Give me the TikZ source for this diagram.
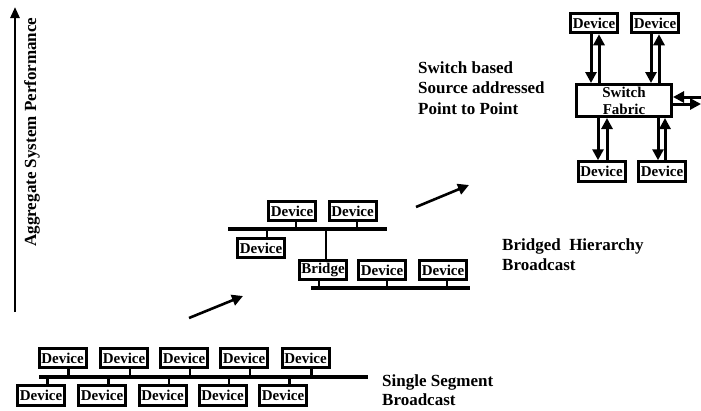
\documentclass[tikz,border=0pt]{standalone}
\usepackage{fontspec}
\setmainfont{Liberation Serif}
\usetikzlibrary{arrows.meta}
\begin{document}
\begin{tikzpicture}[x=1pt,y=-1pt,
 dev/.style={draw, line width=3pt, minimum width=47pt, minimum height=19.5pt, inner sep=0pt, font=\fontsize{15}{16}\selectfont\bfseries},
 bus/.style={line width=3.5pt},
 stub/.style={line width=2.5pt},
 lbl/.style={anchor=base west, inner sep=0pt, font=\fontsize{17}{20}\selectfont\bfseries},
 arr/.style={line width=3pt, -{Triangle[length=11pt,width=11pt]}},
]
\useasboundingbox (0,0) rectangle (701,410);

% axis
\coordinate (ax0) at (15,312);
\coordinate (ax1) at (15,7);
\draw[line width=2.6pt, -{Triangle[length=11pt,width=9pt]}] (ax0) -- (ax1);
\node[rotate=90, inner sep=0pt, font=\fontsize{17}{20}\selectfont\bfseries] (axl) at (32,132) {Aggregate System Performance};

% single segment
\node[dev] (t1) at (62.5,358) {Device};
\node[dev] (t2) at (124,358) {Device};
\node[dev] (t3) at (184,358) {Device};
\node[dev] (t4) at (244,358) {Device};
\node[dev] (t5) at (305.5,358) {Device};
\node[dev] (b1) at (41,395.5) {Device};
\node[dev] (b2) at (102,395.5) {Device};
\node[dev] (b3) at (162.5,395.5) {Device};
\node[dev] (b4) at (222.5,395.5) {Device};
\node[dev] (b5) at (283,395.5) {Device};
\coordinate (busL) at (39,377);
\coordinate (busR) at (368,377);
\draw[bus] (busL) -- (busR);
\foreach \n in {t1,t2,t3,t4,t5}
  \draw[stub] ([xshift=6pt]\n.south) -- ([xshift=6pt]\n.south |- busL);
\foreach \n in {b1,b2,b3,b4,b5}
  \draw[stub] ([xshift=6.5pt]\n.north) -- ([xshift=6.5pt]\n.north |- busL);
\node[lbl] (s1) at (382,386) {Single Segment};
\node[lbl] (s2) at (382,405.5) {Broadcast};

% arrows between stages
\coordinate (a1s) at (189,318);
\coordinate (a1e) at (243,296);
\draw[arr, line width=2.6pt] (a1s) -- (a1e);
\coordinate (a2s) at (416,207);
\coordinate (a2e) at (469,185);
\draw[arr, line width=2.6pt] (a2s) -- (a2e);

% bridged hierarchy
\node[dev] (ma) at (292,211) {Device};
\node[dev] (mb) at (352.5,211) {Device};
\node[dev] (mc) at (261,248) {Device};
\node[dev] (br) at (323,270) {Bridge};
\node[dev] (md) at (382,270) {Device};
\node[dev] (me) at (443,270) {Device};
\coordinate (bus1L) at (228,229);
\coordinate (bus1R) at (387,229);
\coordinate (bus2L) at (311,288);
\coordinate (bus2R) at (470,288);
\draw[bus] (bus1L) -- (bus1R);
\draw[bus] (bus2L) -- (bus2R);
\draw[stub] ([xshift=4pt]ma.south) -- ([xshift=4pt]ma.south |- bus1L);
\draw[stub] ([xshift=4.5pt]mb.south) -- ([xshift=4.5pt]mb.south |- bus1L);
\draw[stub] ([xshift=6pt]mc.north) -- ([xshift=6pt]mc.north |- bus1L);
\draw[stub] ([xshift=3pt]br.north) -- ([xshift=3pt]br.north |- bus1L);
\draw[stub] ([xshift=-4pt]br.south) -- ([xshift=-4pt]br.south |- bus2L);
\draw[stub] ([xshift=5pt]md.south) -- ([xshift=5pt]md.south |- bus2L);
\draw[stub] ([xshift=4pt]me.south) -- ([xshift=4pt]me.south |- bus2L);
\node[lbl] (h1) at (502,250) {Bridged\ \ Hierarchy};
\node[lbl] (h2) at (502,270) {Broadcast};

% switch based
\node[lbl] (w1) at (418,73) {Switch based};
\node[lbl] (w2) at (418,93.5) {Source addressed};
\node[lbl] (w3) at (418,114) {Point to Point};

\node[dev] (sd1) at (594,23) {Device};
\node[dev] (sd2) at (655,23) {Device};
\node[dev] (sd3) at (601.5,171.5) {Device};
\node[dev] (sd4) at (662,171.5) {Device};
\node[draw, line width=3pt, minimum width=95pt, minimum height=32pt, inner sep=0pt, align=center,
      font=\fontsize{15}{17}\selectfont\bfseries] (fab) at (624,100.5) {Switch\\Fabric};

\draw[arr] ([xshift=-3pt]sd1.south) -- ([xshift=-3pt]sd1.south |- fab.north);
\draw[arr] ([xshift=5pt]sd1.south |- fab.north) -- ([xshift=5pt]sd1.south);
\draw[arr] ([xshift=-4pt]sd2.south) -- ([xshift=-4pt]sd2.south |- fab.north);
\draw[arr] ([xshift=4pt]sd2.south |- fab.north) -- ([xshift=4pt]sd2.south);
\draw[arr] ([xshift=-3.5pt]sd3.north |- fab.south) -- ([xshift=-3.5pt]sd3.north);
\draw[arr] ([xshift=5.5pt]sd3.north) -- ([xshift=5.5pt]sd3.north |- fab.south);
\draw[arr] ([xshift=-4pt]sd4.north |- fab.south) -- ([xshift=-4pt]sd4.north);
\draw[arr] ([xshift=3pt]sd4.north) -- ([xshift=3pt]sd4.north |- fab.south);
\coordinate (rin) at (701,97);
\coordinate (rout) at (701,104);
\draw[arr] (rin) -- (rin -| fab.east);
\draw[arr] (rout -| fab.east) -- (rout);
\end{tikzpicture}
\end{document}
